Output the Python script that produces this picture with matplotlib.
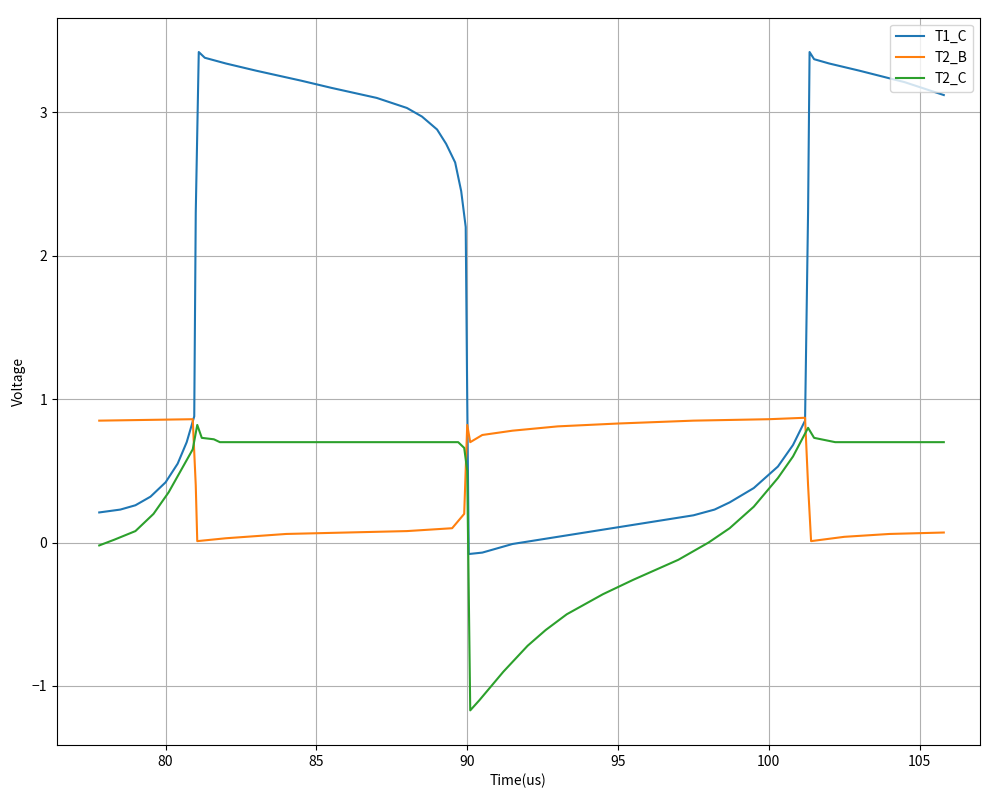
import matplotlib
matplotlib.use('Agg')
import matplotlib.pyplot as plt

plt.rcParams['font.family'] = ['Noto Sans CJK SC', 'DejaVu Sans']

t1_t = [77.8, 78.5, 79.0, 79.5, 80.0, 80.4, 80.7, 80.95, 81.0, 81.1, 81.3, 82.0, 83.0, 84.5, 85.5, 87.0,
        88.0, 88.5, 89.0, 89.3, 89.6, 89.8, 89.95, 90.0, 90.05, 90.5, 91.5, 93.0, 94.5, 96.0, 97.5,
        98.2, 98.7, 99.5, 100.3, 100.8, 101.2, 101.3, 101.35, 101.5, 102.0, 103.0, 104.5, 105.8]
t1_c = [0.21, 0.23, 0.26, 0.32, 0.42, 0.55, 0.70, 0.88, 2.3, 3.42, 3.38, 3.34, 3.29, 3.22, 3.17, 3.10,
        3.03, 2.97, 2.88, 2.78, 2.65, 2.45, 2.2, 1.0, -0.08, -0.07, -0.01, 0.04, 0.09, 0.14, 0.19,
        0.23, 0.28, 0.38, 0.53, 0.68, 0.85, 2.3, 3.42, 3.37, 3.34, 3.29, 3.21, 3.12]

t2b_t = [77.8, 80.9, 81.0, 81.05, 82.0, 84.0, 86.0, 88.0, 89.5, 89.9, 90.0, 90.1, 90.5, 91.5,
         93.0, 95.0, 97.5, 100.0, 101.2, 101.3, 101.4, 102.5, 104.0, 105.8]
t2_b = [0.85, 0.86, 0.4, 0.01, 0.03, 0.06, 0.07, 0.08, 0.10, 0.20, 0.82, 0.70, 0.75, 0.78,
        0.81, 0.83, 0.85, 0.86, 0.87, 0.4, 0.01, 0.04, 0.06, 0.07]

t2c_t = [77.8, 78.3, 79.0, 79.6, 80.1, 80.5, 80.9, 81.05, 81.2, 81.6, 81.8, 89.7, 89.9, 90.0, 90.1,
         90.4, 90.8, 91.2, 92.0, 92.6, 93.3, 94.5, 95.5, 97.0, 98.0, 98.7, 99.5, 100.3, 100.8, 101.3,
         101.5, 102.2, 105.8]
t2_c = [-0.02, 0.02, 0.08, 0.20, 0.35, 0.50, 0.65, 0.82, 0.73, 0.72, 0.70, 0.70, 0.66, 0.5, -1.17,
        -1.10, -1.0, -0.90, -0.72, -0.61, -0.50, -0.36, -0.26, -0.12, 0.0, 0.10, 0.25, 0.45, 0.60,
        0.80, 0.73, 0.70, 0.70]

fig, ax = plt.subplots(figsize=(10, 8), dpi=100)
ax.plot(t1_t, t1_c, label='T1_C')
ax.plot(t2b_t, t2_b, label='T2_B')
ax.plot(t2c_t, t2_c, label='T2_C')
ax.set_xlim(76.4, 107.0)
ax.set_ylim(-1.41, 3.66)
ax.set_xlabel('Time(us)')
ax.set_ylabel('Voltage')
ax.grid(True)
ax.legend(loc='upper right')
plt.subplots_adjust(left=0.057, right=0.98, top=0.978, bottom=0.069)
plt.savefig('out.png')
